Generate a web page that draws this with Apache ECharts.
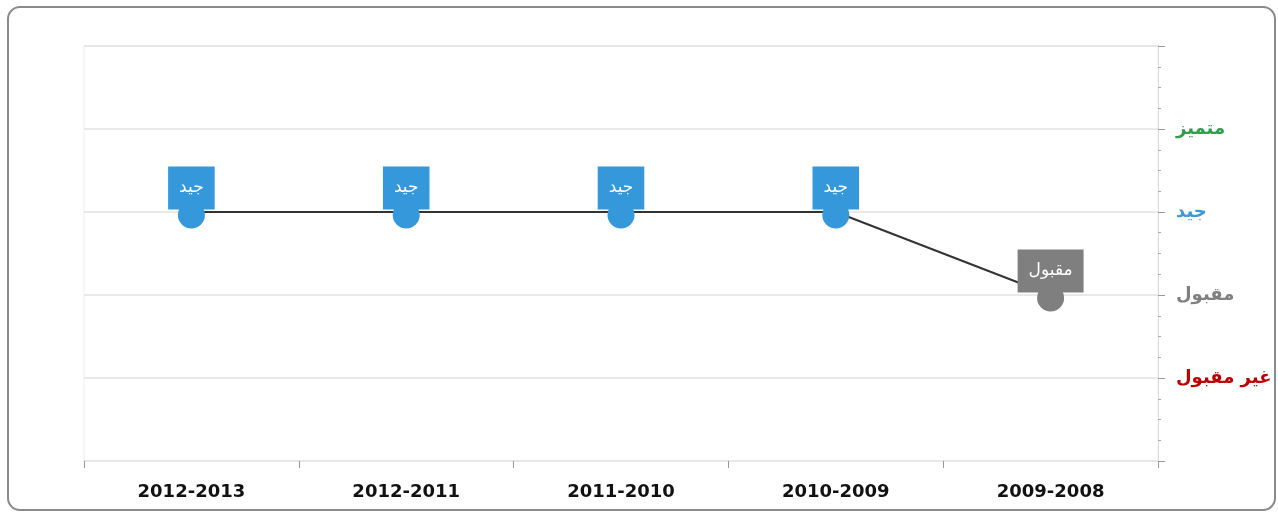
<!DOCTYPE html>
<html>
<head>
<meta charset="utf-8">
<script src="https://cdn.jsdelivr.net/npm/echarts@6/dist/echarts.min.js"></script>
<style>
  html, body {margin: 0; padding: 0; background: #fff;}
  #chart {width: 1278px; height: 512px;}
</style>
</head>
<body>
<div id="chart"></div>
<script>
var years = ['2012-2013', '2012-2011', '2011-2010', '2010-2009', '2009-2008']
var grades = [3, 3, 3, 3, 2]
var gradeNames = ['', 'غير مقبول', 'مقبول', 'جيد', 'متميز', '']

// colour of each grade level (label text / point box)
var gradeColors = ['#999', '#c00000', '#7f7f7f', '#3a9ad9', '#2e9e4a', '#999']
var boxColors = ['#999', '#c00000', '#7f7f7f', '#3498db', '#2e9e4a', '#999']

var chart = echarts.init(document.getElementById('chart'))

var option = {
  animation: false,
  graphic: [{
    type: 'rect',
    shape: {x: 8, y: 7, width: 1267, height: 503, r: 12},
    style: {fill: 'none', stroke: '#8a8a8a', lineWidth: 2},
    z: -1
  }],
  grid: {
    left: 84, right: 120, top: 46, bottom: 51,
    show: true, borderColor: '#eeeeee', borderWidth: 1
  },
  xAxis: {
    type: 'category',
    data: years,
    boundaryGap: true,
    axisLine: {lineStyle: {color: '#e8e8e8'}},
    axisTick: {show: true, interval: 0, length: 7, lineStyle: {color: '#999'}},
    axisLabel: {
      interval: 0, margin: 22, color: '#111',
      fontFamily: 'DejaVu Sans', fontWeight: 'bold', fontSize: 18
    }
  },
  yAxis: {
    type: 'value',
    position: 'right',
    min: 0, max: 5, interval: 1,
    axisLine: {show: true, lineStyle: {color: '#dddddd'}},
    axisTick: {show: true, length: 7, lineStyle: {color: '#999'}},
    minorTick: {show: true, splitNumber: 4, length: 3, lineStyle: {color: '#aaa'}},
    splitLine: {lineStyle: {color: '#e2e2e2', width: 1.5}},
    axisLabel: {
      margin: 18,
      fontFamily: 'DejaVu Sans', fontWeight: 'bold', fontSize: 18,
      formatter: function (v) { return gradeNames[v] || '' },
      color: function (v) { return gradeColors[v] || '#999' }
    }
  },
  series: [{
    type: 'line',
    data: grades.map(function (g) {
      return {
        value: g,
        itemStyle: {color: boxColors[g]},
        label: {backgroundColor: boxColors[g]}
      }
    }),
    lineStyle: {color: '#333', width: 2},
    symbol: 'circle',
    symbolSize: 27,
    symbolOffset: [0, 3],
    itemStyle: {borderWidth: 0},
    label: {
      show: true,
      position: 'top',
      distance: -8,
      formatter: function (p) { return gradeNames[p.value] },
      color: '#fff',
      fontFamily: 'DejaVu Sans',
      fontSize: 17,
      padding: [13, 11, 13, 11]
    }
  }]
}

chart.setOption(option)
</script>
</body>
</html>
